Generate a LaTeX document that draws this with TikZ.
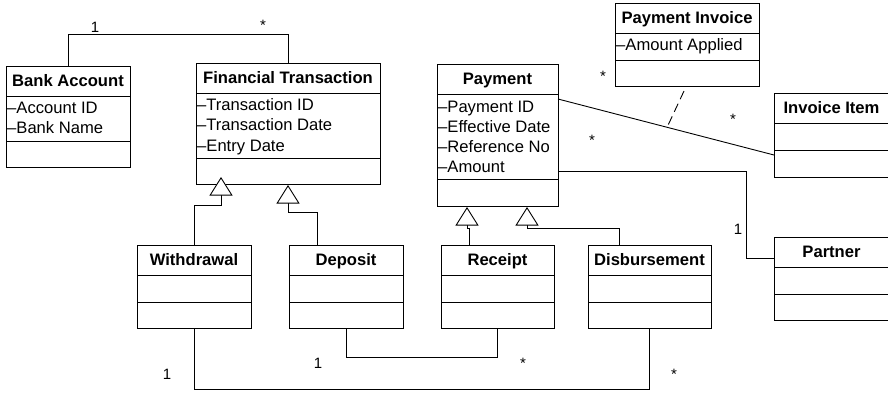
\documentclass[tikz,border=0pt]{standalone}
\usepackage{fontspec}
\setmainfont{Liberation Sans}
\usetikzlibrary{arrows.meta,calc}
\tikzset{
  clsbox/.style={draw, line width=0.9pt, inner sep=0pt, outer sep=0pt},
  sepline/.style={line width=0.9pt},
  clstitle/.style={anchor=base, inner sep=0pt, font=\fontsize{16.6}{20}\selectfont\bfseries},
  attr/.style={anchor=base west, inner sep=0pt, font=\fontsize{16.6}{20}\selectfont},
  mult/.style={inner sep=0pt, font=\fontsize{15}{18}\selectfont},
  assoc/.style={line width=0.9pt},
  gen/.style={line width=0.9pt, -{Triangle[length=18.5pt,width=23pt,fill=white,line width=0.9pt]}},
  linkdash/.style={line width=0.9pt, dash pattern=on 9pt off 5pt}
}
\newcommand\umlcls[8]{%
  \node[clsbox, minimum width={(#4-#2)*1pt}, minimum height={(#5-#3)*1pt}] (#1) at ({(#2+#4)/2},{(#3+#5)/2}) {};
  \draw[sepline] (#2,#6) -- (#4,#6) (#2,#7) -- (#4,#7);
  \node[clstitle] (#1-title) at ({(#2+#4)/2},{(#3+#6)/2+5.5}) {#8};
}
\newcommand\umlattr[4]{\node[attr] (#1) at (#2,#3) {#4};}
\begin{document}
\begin{tikzpicture}[x=1pt,y=-1pt]
\useasboundingbox (0,0) rectangle (888,392);
% classes
\umlcls{ba}{6}{66}{130}{167}{96}{141}{Bank Account}
\umlattr{ba-a1}{7}{113}{–Account ID}
\umlattr{ba-a2}{7}{133.3}{–Bank Name}

\umlcls{ft}{196}{63}{380}{184}{93}{158}{Financial Transaction}
\umlattr{ft-a1}{197}{110}{–Transaction ID}
\umlattr{ft-a2}{197}{130.5}{–Transaction Date}
\umlattr{ft-a3}{197}{151}{–Entry Date}

\umlcls{pm}{437}{64}{558}{206}{94}{179}{Payment}
\umlattr{pm-a1}{438}{112}{–Payment ID}
\umlattr{pm-a2}{438}{132}{–Effective Date}
\umlattr{pm-a3}{438}{152}{–Reference No}
\umlattr{pm-a4}{438}{172}{–Amount}

\umlcls{pi}{615}{3}{759}{86}{33}{60}{Payment Invoice}
\umlattr{pi-a1}{616}{50}{–Amount Applied}

\umlcls{ii}{774}{93}{889}{177}{123.5}{150}{Invoice Item}
\umlcls{pt}{774}{237}{889}{320}{267.5}{294}{Partner}

\umlcls{wd}{137}{245}{251}{328}{275}{302}{Withdrawal}
\umlcls{dp}{289}{245}{403}{328}{275}{302}{Deposit}
\umlcls{rc}{441}{245}{554}{328}{275}{302}{Receipt}
\umlcls{db}{588}{245}{711}{328}{275}{302}{Disbursement}

% associations
\draw[assoc] (ba.north) -- ++(0,-32) -| (ft.north);
\coordinate (pmB) at ($(pm.north east)+(0,35)$);
\coordinate (iiB) at ($(ii.north west)+(0,62)$);
\draw[assoc] (pmB) -- (iiB);
\coordinate (piLink) at ($(pmB)!0.505!(iiB)$);
\draw[linkdash] ($(pi.south)+(-3,5)$) -- (piLink);
\draw[assoc] ($(pm.north east)+(0,107)$) -| ($(pt.north west)+(-28,21)$) -- ($(pt.north west)+(0,21)$);
\draw[assoc] (dp.south) -- ++(0,29) -| (rc.south);
\draw[assoc] (wd.south) -- ++(0,61) -| (db.south);

% generalizations
\draw[gen] (wd.north) |- ($(ft.south)+(-67,21)$) -- ($(ft.south)+(-67,-7)$);
\draw[gen] ($(dp.north)+(-29,0)$) |- ($(ft.south)+(0,28)$) -- ($(ft.south)+(0,1)$);
\draw[gen] ($(rc.north)+(-28.5,0)$) |- ($(pm.south)+(-30.5,22)$) -- ($(pm.south)+(-30.5,1)$);
\draw[gen] ($(db.north)+(-30.5,0)$) |- ($(pm.south)+(29.5,22)$) -- ($(pm.south)+(29.5,1)$);

% multiplicities
\node[mult] (m1) at (95,27) {1};
\node[mult, anchor=base] (m2) at (263,30.5) {*};
\node[mult, anchor=base] (m3) at (603,81.5) {*};
\node[mult, anchor=base] (m4) at (733,124.5) {*};
\node[mult, anchor=base] (m5) at (592,145.5) {*};
\node[mult] (m6) at (738,229) {1};
\node[mult] (m7) at (318,363) {1};
\node[mult, anchor=base] (m8) at (523,368.5) {*};
\node[mult] (m9) at (167,374) {1};
\node[mult, anchor=base] (m10) at (674,379.5) {*};
\end{tikzpicture}
\end{document}
